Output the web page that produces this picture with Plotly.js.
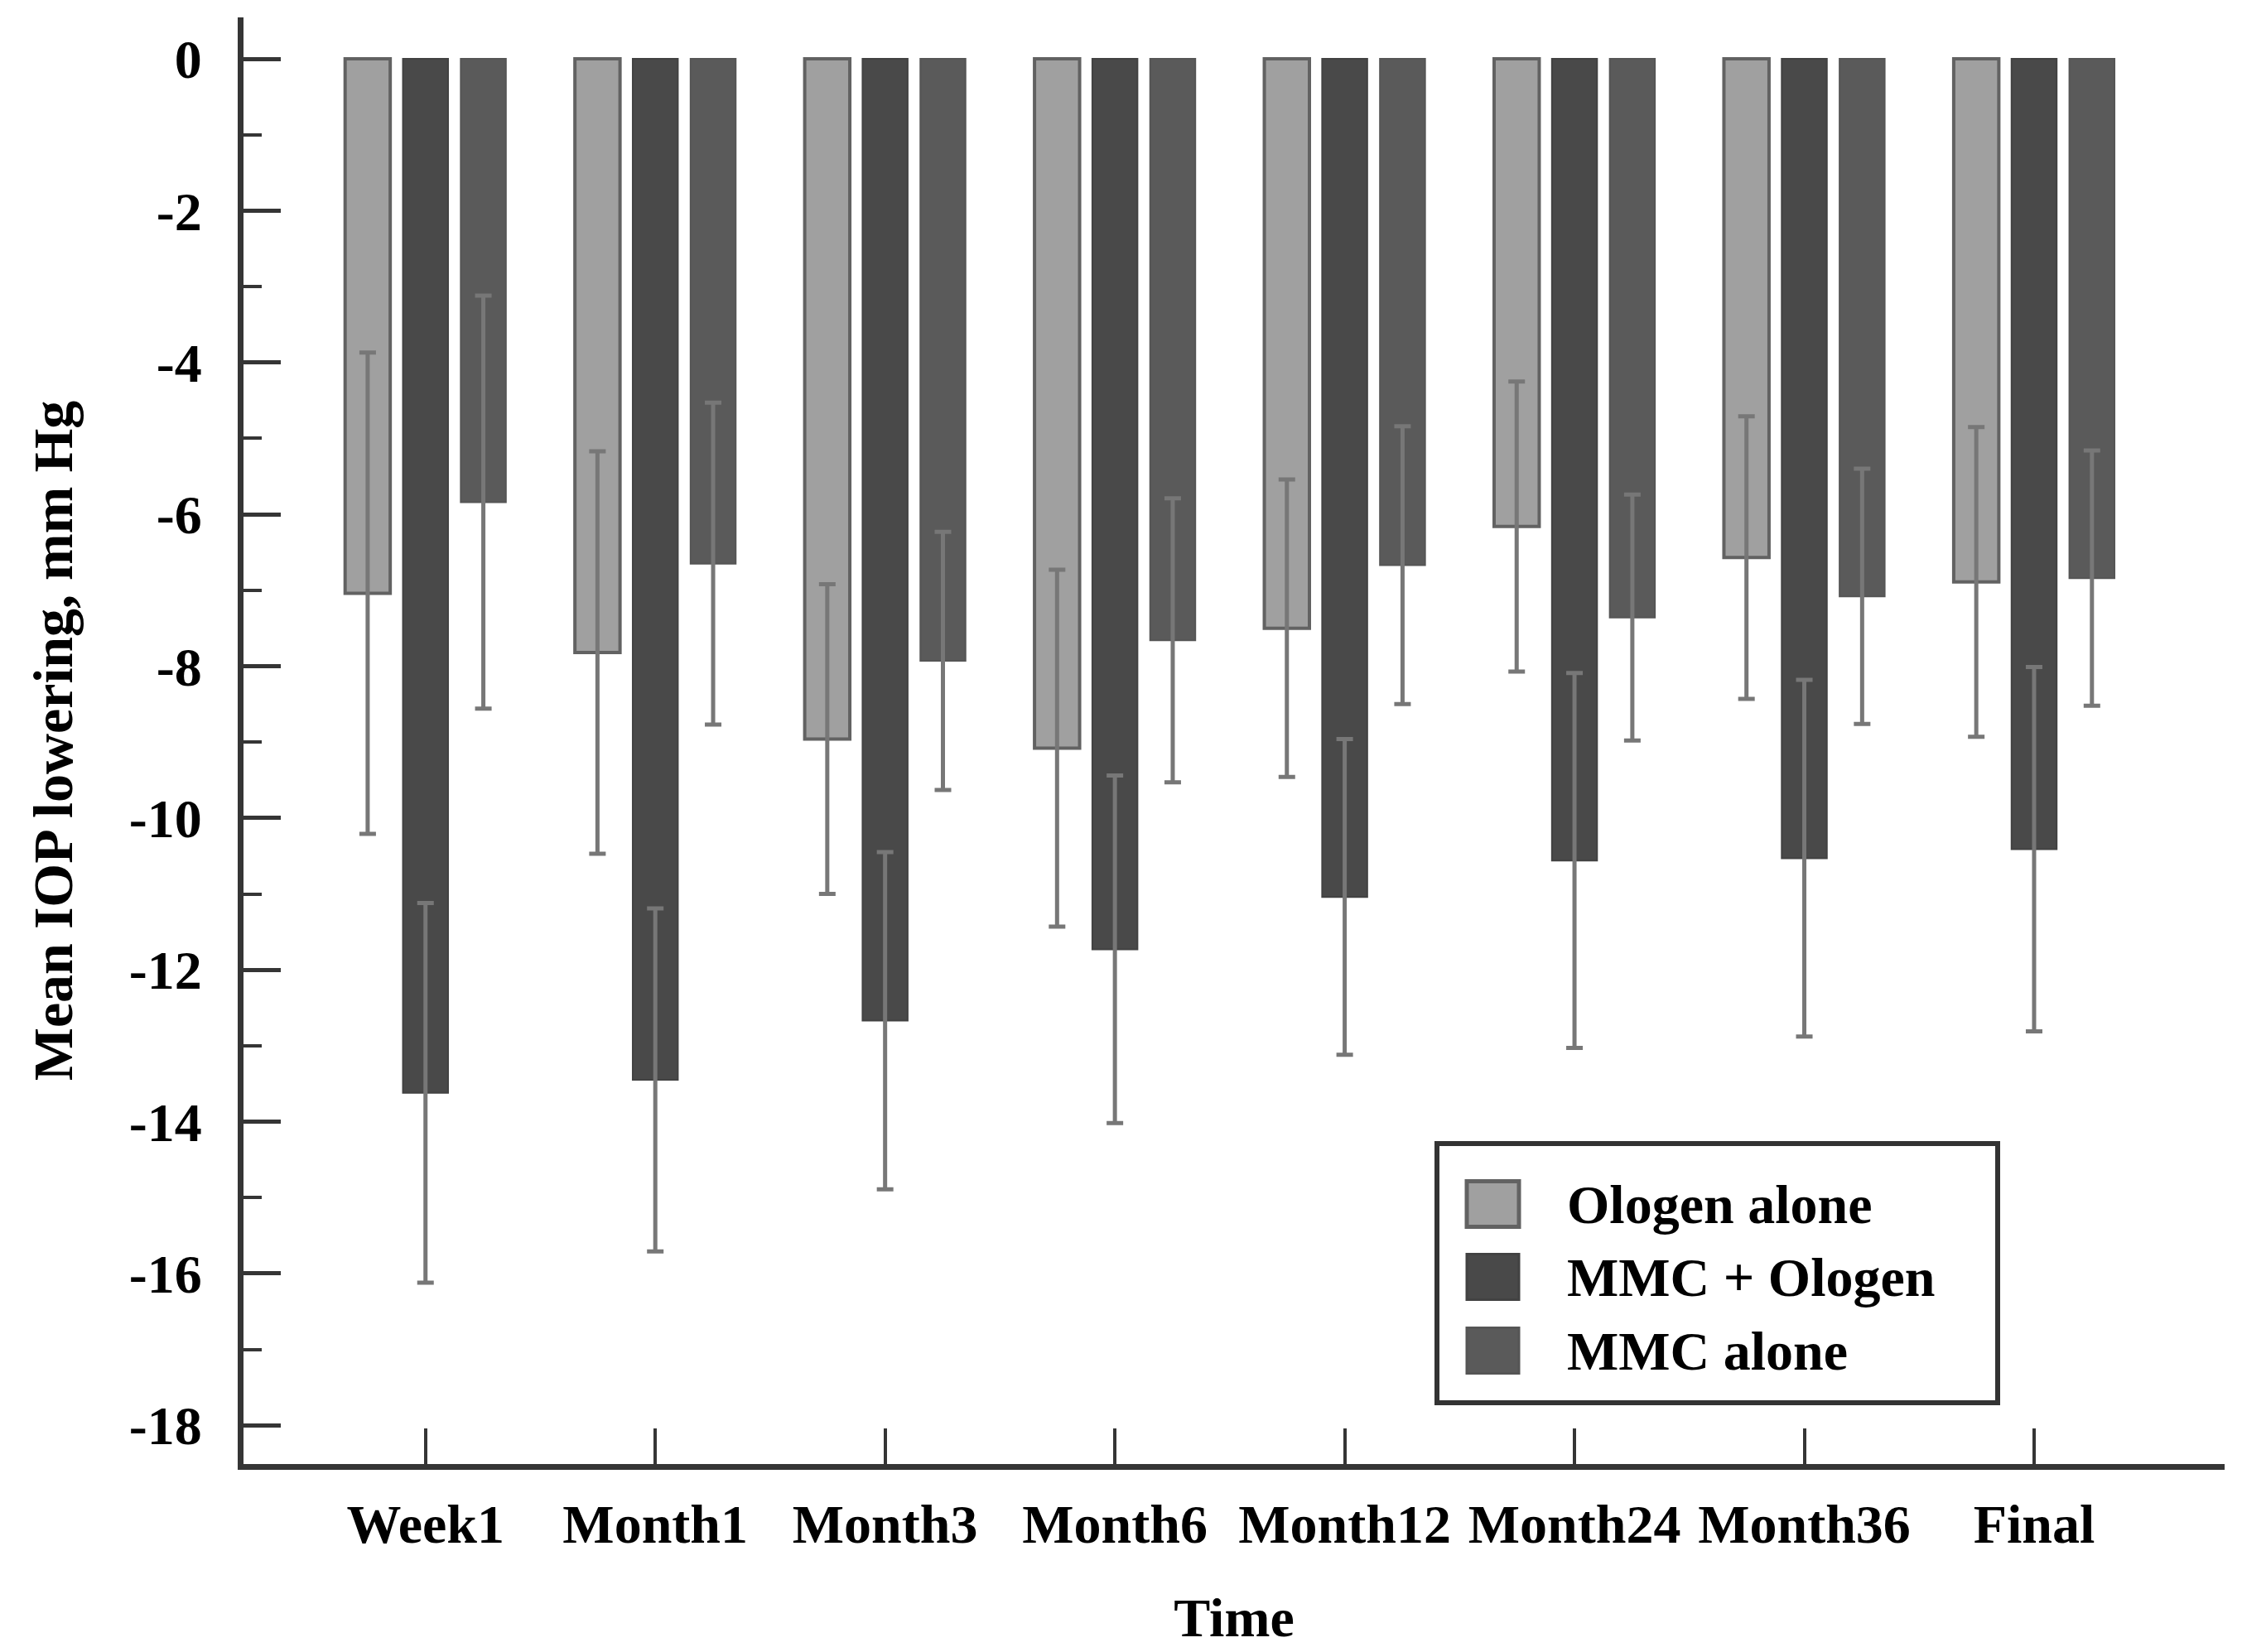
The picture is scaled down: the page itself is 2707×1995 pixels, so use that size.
<!DOCTYPE html>
<html>
<head>
<meta charset="utf-8">
<script src="https://cdn.plot.ly/plotly-3.0.1.min.js"></script>
<style>
  html, body { margin: 0; padding: 0; background: #ffffff; }
  #chart { width: 2707px; height: 1995px; }
</style>
</head>
<body>
<div id="chart"></div>
<script>
// ---- data ----
const categories = ['Week1', 'Month1', 'Month3', 'Month6', 'Month12', 'Month24', 'Month36', 'Final'];
const seriesNames = ['Ologen alone', 'MMC + Ologen', 'MMC alone'];
const ologenAlone    = [-7.04, -7.82, -8.96, -9.08, -7.50, -6.16, -6.57, -6.89];
const ologenAloneSD  = [3.17, 2.65, 2.04, 2.35, 1.96, 1.91, 1.86, 2.04];
const mmcOlogen      = [-13.62, -13.45, -12.67, -11.73, -11.04, -10.56, -10.53, -10.41];
const mmcOlogenSD    = [2.50, 2.26, 2.22, 2.29, 2.08, 2.47, 2.35, 2.40];
const mmcAlone       = [-5.84, -6.65, -7.93, -7.66, -6.67, -7.36, -7.08, -6.84];
const mmcAloneSD     = [2.72, 2.12, 1.70, 1.87, 1.83, 1.62, 1.68, 1.68];
const yTickVals = [0, -2, -4, -6, -8, -10, -12, -14, -16, -18];
const yTickText = ['0', '-2', '-4', '-6', '-8', '-10', '-12', '-14', '-16', '-18'];

// ---- styles ----
const fills   = ['#a0a0a0', '#494949', '#5a5a5a'];
const borders = ['#626262', '#424242', '#555555'];
const borderW = [4, 2, 2];
const errColor = '#777777';
const axisColor = '#353535';
const FONT = { family: 'Liberation Serif, Times New Roman, serif', size: 66, color: '#000000', weight: 700 };
const TITLE_FONT = { family: 'Liberation Serif, Times New Roman, serif', size: 68, color: '#000000', weight: 700 };

const W = 2707, H = 1995;
const M = { l: 294, r: 21, t: 21, b: 227 };
const plotW = W - M.l - M.r, plotH = H - M.t - M.b;
const px = x => (x - M.l) / plotW;
const py = y => 1 - (y - M.t) / plotH;

const values = [ologenAlone, mmcOlogen, mmcAlone];
const sds = [ologenAloneSD, mmcOlogenSD, mmcAloneSD];

const traces = values.map((v, i) => ({
  type: 'bar',
  name: seriesNames[i],
  x: categories,
  y: v,
  marker: { color: fills[i], line: { color: borders[i], width: borderW[i] } },
  error_y: { type: 'data', array: sds[i], visible: true, color: errColor, thickness: 5, width: 10 },
  showlegend: false,
  hoverinfo: 'skip'
}));

// ---- custom legend (box, swatches, labels) ----
const legBox = { x0: 1735, x1: 2412, y0: 1381, y1: 1694 };
const swX0 = 1771, swX1 = 1834;
const rowsY = [1454, 1542, 1631];
const swH = 55;
const shapes = [{
  type: 'rect', xref: 'paper', yref: 'paper',
  x0: px(legBox.x0), x1: px(legBox.x1), y0: py(legBox.y1), y1: py(legBox.y0),
  line: { color: '#333333', width: 6 }, fillcolor: '#ffffff', layer: 'above'
}];
const annotations = [];
seriesNames.forEach((name, i) => {
  shapes.push({
    type: 'rect', xref: 'paper', yref: 'paper',
    x0: px(swX0), x1: px(swX1), y0: py(rowsY[i] + swH / 2), y1: py(rowsY[i] - swH / 2),
    line: { color: borders[i], width: i === 0 ? 5 : 3 }, fillcolor: fills[i], layer: 'above'
  });
  annotations.push({
    xref: 'paper', yref: 'paper', x: px(1890), y: py(rowsY[i]),
    xanchor: 'left', yanchor: 'middle', showarrow: false,
    text: name, font: FONT
  });
});

const layout = {
  width: W, height: H,
  margin: M,
  paper_bgcolor: '#ffffff', plot_bgcolor: '#ffffff',
  font: FONT,
  barmode: 'group',
  bargap: 0.245,
  bargroupgap: 0.22,
  showlegend: false,
  xaxis: {
    type: 'category',
    range: [-0.792, 7.829],
    showline: true, linecolor: axisColor, linewidth: 7,
    ticks: 'inside', ticklen: 43, tickwidth: 4, tickcolor: axisColor,
    showgrid: false, zeroline: false,
    tickfont: FONT,
    ticklabelstandoff: 9,
    title: { text: 'Time', font: FONT, standoff: 56 },
    automargin: false
  },
  yaxis: {
    range: [-18.51, 0.546],
    tickmode: 'array', tickvals: yTickVals, ticktext: yTickText,
    showline: true, linecolor: axisColor, linewidth: 7,
    ticks: 'inside', ticklen: 45, tickwidth: 5, tickcolor: axisColor,
    minor: { tickmode: 'linear', tick0: 0, dtick: 1, ticks: 'inside', ticklen: 22, tickwidth: 4, tickcolor: axisColor, showgrid: false },
    showgrid: false, zeroline: false,
    tickfont: FONT,
    ticklabelstandoff: 30,
    title: { text: 'Mean IOP lowering, mm Hg', font: TITLE_FONT, standoff: 49 },
    automargin: false
  },
  shapes: shapes,
  annotations: annotations
};

Plotly.newPlot('chart', traces, layout, { staticPlot: true, displayModeBar: false });
</script>
</body>
</html>
